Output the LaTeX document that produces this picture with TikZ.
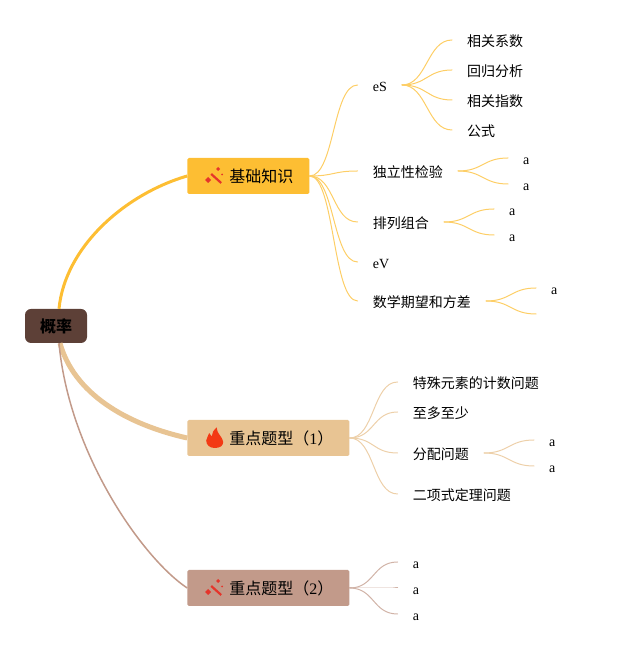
\documentclass[tikz,border=0pt]{standalone}
\usepackage{fontspec}
\setmainfont{Liberation Serif}
\newfontfamily\cjk{Noto Sans CJK SC}
\usetikzlibrary{positioning, calc}

\definecolor{rootcolor}{HTML}{5D4037}
\definecolor{basiccolor}{HTML}{FDBE33}
\definecolor{typeonecolor}{HTML}{E8C493}
\definecolor{typetwocolor}{HTML}{C29A8A}
\definecolor{iconred}{HTML}{E5352B}
\definecolor{flamered}{HTML}{F33A14}

\tikzset{
    wand/.pic={
        \draw[iconred, line width=2.2pt] (-4,2) -- (6,-7);
        \fill[iconred] (3,5) -- (5,7) -- (3,9) -- (1,7) -- cycle;
        \fill[iconred] (-7,-7) -- (-4,-4) -- (-7,-1) -- (-10,-4) -- cycle;
        \fill[iconred] (7,0.5) -- (8,1.5) -- (7,2.5) -- (6,1.5) -- cycle;
    },
    flame/.pic={
        \fill[flamered] (0,-10) .. controls (-5,-10) and (-8.5,-7) .. (-8.5,-2.5)
            .. controls (-8.5,0) and (-6,2) .. (-5.5,5)
            .. controls (-4.5,4) and (-3.5,3) .. (-3,1.5)
            .. controls (-3,5) and (-1,8) .. (2,10.5)
            .. controls (2,7) and (3.5,5) .. (5,3)
            .. controls (7,0) and (8.5,-2) .. (8.5,-4)
            .. controls (8.5,-8) and (5,-10) .. (0,-10) -- cycle;
    }
}

\begin{document}
\begin{tikzpicture}[
        x=1pt, y=1pt,
        root/.style={rectangle, rounded corners=6pt, fill=rootcolor, minimum width=62pt, minimum height=34pt, inner sep=0pt, text height=14pt, text depth=0pt, font=\fontsize{16}{16}\selectfont\cjk\bfseries},
        branch/.style={rectangle, rounded corners=1.5pt, minimum height=36pt, inner xsep=16pt, inner ysep=0pt, text height=14pt, text depth=0pt, font=\fontsize{16}{16}\selectfont\cjk, execute at begin node=\hspace*{26pt}},
        leaf/.style={inner xsep=15pt, inner ysep=0pt, text height=13pt, text depth=0pt, font=\fontsize{14}{14}\selectfont\cjk},
        latin/.style={font=\fontsize{14}{14}\selectfont\rmfamily},
        edge/.style={line width=1pt, line cap=round}
    ]
    \useasboundingbox (0,0) rectangle (618,652);

    % root and the three main topics
    \node (root) [root] at (56,326) {概率};
    \node (basic) [branch, fill=basiccolor, right=100pt of root.east, yshift=150pt] {基础知识};
    \node (typeone) [branch, fill=typeonecolor, right=100pt of root.east, yshift=-112pt] {重点题型（{\rmfamily 1}）};
    \node (typetwo) [branch, fill=typetwocolor, right=100pt of root.east, yshift=-262pt] {重点题型（{\rmfamily 2}）};

    \pic at ($(basic.west)+(28,0)$) {wand};
    \pic at ($(typeone.west)+(27.5,0)$) {flame};
    \pic at ($(typetwo.west)+(28,0)$) {wand};

    % basic knowledge
    \node (es) [leaf, latin, right=48pt of basic.east, yshift=91pt] {eS};
    \node (xishu) [leaf, right=50pt of es.east, yshift=45pt] {相关系数};
    \node (huigui) [leaf, right=50pt of es.east, yshift=15pt] {回归分析};
    \node (zhishu) [leaf, right=50pt of es.east, yshift=-15pt] {相关指数};
    \node (gongshi) [leaf, right=50pt of es.east, yshift=-45pt] {公式};
    \node (duli) [leaf, right=48pt of basic.east, yshift=5pt] {独立性检验};
    \node (dulia) [leaf, latin, right=50pt of duli.east, yshift=13pt] {a};
    \node (dulib) [leaf, latin, right=50pt of duli.east, yshift=-13pt] {a};
    \node (pailie) [leaf, right=48pt of basic.east, yshift=-46pt] {排列组合};
    \node (pailiea) [leaf, latin, right=50pt of pailie.east, yshift=13pt] {a};
    \node (pailieb) [leaf, latin, right=50pt of pailie.east, yshift=-13pt] {a};
    \node (ev) [leaf, latin, right=48pt of basic.east, yshift=-86pt] {eV};
    \node (qiwang) [leaf, right=48pt of basic.east, yshift=-125pt] {数学期望和方差};
    \node (qiwanga) [leaf, latin, right=50pt of qiwang.east, yshift=13pt] {a};
    \coordinate (qiwangb) at ($(qiwang.east)+(50,-13)$);

    % type one
    \node (teshu) [leaf, right=48pt of typeone.east, yshift=56pt] {特殊元素的计数问题};
    \node (zhiduo) [leaf, right=48pt of typeone.east, yshift=26pt] {至多至少};
    \node (fenpei) [leaf, right=48pt of typeone.east, yshift=-15pt] {分配问题};
    \node (fenpeia) [leaf, latin, right=50pt of fenpei.east, yshift=13pt] {a};
    \node (fenpeib) [leaf, latin, right=50pt of fenpei.east, yshift=-13pt] {a};
    \node (erxiang) [leaf, right=48pt of typeone.east, yshift=-56pt] {二项式定理问题};

    % type two
    \node (twoa) [leaf, latin, right=48pt of typetwo.east, yshift=26pt] {a};
    \node (twob) [leaf, latin, right=48pt of typetwo.east] {a};
    \node (twoc) [leaf, latin, right=48pt of typetwo.east, yshift=-26pt] {a};

    % main connectors
    \draw[basiccolor, line width=3pt] ($(root.north)+(3,0)$) .. controls +(6,62) and +(-62,-18) .. (basic.west);
    \draw[typeonecolor, line width=5pt] ($(root.south)+(4,0)$) .. controls +(14,-50) and +(-62,14) .. (typeone.west);
    \draw[typetwocolor, line width=1.5pt] ($(root.south)+(3,0)$) .. controls +(10,-110) and +(-45,30) .. (typetwo.west);

    % thin connectors
    \foreach \from/\to in {basic/es, basic/duli, basic/pailie, basic/ev, basic/qiwang, es/xishu, es/huigui, es/zhishu, es/gongshi, duli/dulia, duli/dulib, pailie/pailiea, pailie/pailieb, qiwang/qiwanga, qiwang/qiwangb}
        \draw[edge, basiccolor!75] (\from.east) .. controls +(25,0) and +(-25,0) .. (\to.west);
    \foreach \from/\to in {typeone/teshu, typeone/zhiduo, typeone/fenpei, typeone/erxiang, fenpei/fenpeia, fenpei/fenpeib}
        \draw[edge, typeonecolor!80] (\from.east) .. controls +(25,0) and +(-25,0) .. (\to.west);
    \foreach \from/\to in {typetwo/twoa, typetwo/twob, typetwo/twoc}
        \draw[edge, typetwocolor!75] (\from.east) .. controls +(25,0) and +(-25,0) .. (\to.west);

\end{tikzpicture}
\end{document}
